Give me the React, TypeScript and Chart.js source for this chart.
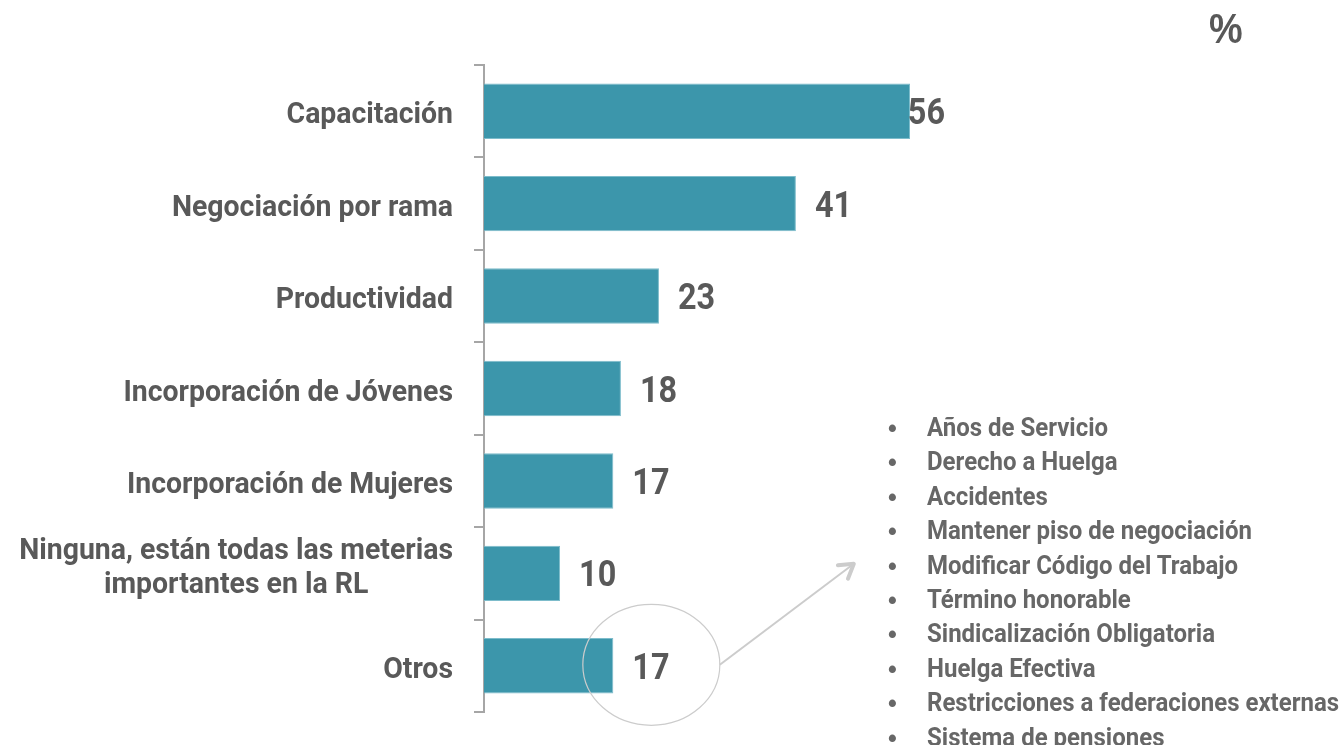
import React, { useEffect, useRef } from "react";
import { Chart, registerables } from "chart.js";

Chart.register(...registerables);

const categories: (string | string[])[] = [
  "Capacitación",
  "Negociación por rama",
  "Productividad",
  "Incorporación de Jóvenes",
  "Incorporación de Mujeres",
  ["Ninguna, están todas las meterias", "importantes en la RL"],
  "Otros",
];
const values: number[] = [56, 41, 23, 18, 17, 10, 17];
const otrosItems: string[] = [
  "Años de Servicio",
  "Derecho a Huelga",
  "Accidentes",
  "Mantener piso de negociación",
  "Modificar Código del Trabajo",
  "Término honorable",
  "Sindicalización Obligatoria",
  "Huelga Efectiva",
  "Restricciones a federaciones externas",
  "Sistema de pensiones",
];
const unitLabel = "%";

const FONT = "Roboto, 'Liberation Sans', sans-serif";
const LABEL_SQUEEZE = 0.98;
const VALUE_SQUEEZE = 0.9;
const LIST_SQUEEZE = 0.96;
const TEXT = "#595959";
const LIST_TEXT = "#676767";
const BAR = "#3c96ab";
const AXIS = "#a6a6a6";
const ANNOT = "#cccccc";

const textPlugin = {
  id: "textPlugin",
  afterDatasetsDraw(chart: any) {
    const { ctx, chartArea } = chart;
    const yScale = chart.scales.y;
    const meta = chart.getDatasetMeta(0);
    ctx.save();
    ctx.fillStyle = TEXT;
    ctx.textBaseline = "alphabetic";

    // category labels
    ctx.font = `bold 29px ${FONT}`;
    const labels = chart.data.labels as (string | string[])[];
    labels.forEach((lab, i) => {
      const lines = Array.isArray(lab) ? lab : [lab];
      const cy = yScale.getPixelForTick(i);
      const n = lines.length;
      const widths = lines.map((l) => ctx.measureText(l).width * LABEL_SQUEEZE);
      const maxW = Math.max(...widths);
      const right = chartArea.left - 31;
      lines.forEach((line, j) => {
        const base = cy + 12 + (j - (n - 1) / 2) * 34 + (n > 1 ? -9 : 0);
        ctx.save();
        ctx.translate(n > 1 ? right - maxW / 2 : right, base);
        ctx.scale(LABEL_SQUEEZE, 1);
        ctx.textAlign = n > 1 ? "center" : "right";
        ctx.fillText(line, 0, 0);
        ctx.restore();
      });
    });

    // value labels
    ctx.font = `bold 36px ${FONT}`;
    meta.data.forEach((bar: any, i: number) => {
      const txt = String(values[i]);
      const w = ctx.measureText(txt).width * VALUE_SQUEEZE;
      const x = Math.min(bar.x + 19, chartArea.right - w);
      ctx.save();
      ctx.translate(x, bar.y + 13);
      ctx.scale(VALUE_SQUEEZE, 1);
      ctx.textAlign = "left";
      ctx.fillText(txt, 0, 0);
      ctx.restore();
    });

    // annotation around "Otros"
    const last = meta.data[meta.data.length - 1];
    const cx = last.x + 38;
    const cy = last.y - 1;
    ctx.strokeStyle = ANNOT;
    ctx.lineWidth = 1.2;
    ctx.beginPath();
    ctx.ellipse(cx, cy, 68.5, 60.5, 0, 0, Math.PI * 2);
    ctx.stroke();
    const x0 = cx + 68.5;
    const y0 = cy;
    const x1 = x0 + 134;
    const y1 = y0 - 101;
    ctx.lineWidth = 2;
    ctx.beginPath();
    ctx.moveTo(x0, y0);
    ctx.lineTo(x1, y1);
    ctx.stroke();
    const ang = Math.atan2(y1 - y0, x1 - x0);
    const len = 16;
    ctx.lineWidth = 4;
    ctx.lineCap = "round";
    ctx.lineJoin = "round";
    ctx.beginPath();
    ctx.moveTo(x1 - len * Math.cos(ang - 0.55), y1 - len * Math.sin(ang - 0.55));
    ctx.lineTo(x1, y1);
    ctx.lineTo(x1 - len * Math.cos(ang + 0.55), y1 - len * Math.sin(ang + 0.55));
    ctx.stroke();
    ctx.restore();
  },
};

export default function App() {
  const ref = useRef<HTMLCanvasElement>(null);
  useEffect(() => {
    if (!ref.current) return;
    const chart = new Chart(ref.current, {
      type: "bar",
      data: {
        labels: categories,
        datasets: [
          {
            data: values,
            backgroundColor: BAR,
            borderColor: "#7dbccb",
            borderWidth: 1,
            categoryPercentage: 1,
            barPercentage: 0.6,
          },
        ],
      },
      options: {
        indexAxis: "y",
        animation: false,
        responsive: false,
        maintainAspectRatio: false,
        layout: { padding: { left: 0, right: 399, top: 65, bottom: 33 } },
        plugins: { legend: { display: false }, tooltip: { enabled: false } },
        scales: {
          x: { display: false, min: 0, max: 60.6 },
          y: {
            afterFit: (scale: any) => {
              scale.width = 484;
            },
            border: { display: true, color: AXIS, width: 2 },
            grid: {
              offset: true,
              drawOnChartArea: false,
              drawTicks: true,
              tickLength: 10,
              color: AXIS,
              lineWidth: 2,
            },
            ticks: { display: false },
          },
        },
      },
      plugins: [textPlugin],
    });
    return () => chart.destroy();
  }, []);

  return (
    <div style={{ position: "absolute", left: 0, top: 0, width: 1344, height: 745, overflow: "hidden", background: "#fff" }}>
      <canvas ref={ref} width={1344} height={745} style={{ position: "absolute", left: 0, top: 0 }} />
      <div
        style={{
          position: "absolute",
          left: 1209,
          top: 4,
          fontFamily: "'Liberation Sans', sans-serif",
          fontWeight: "bold",
          fontSize: 43,
          lineHeight: "48px",
          color: TEXT,
          transform: "scaleX(0.88)",
          transformOrigin: "left top",
        }}
      >
        {unitLabel}
      </div>
      <ul
        style={{
          position: "absolute",
          left: 888,
          top: 411,
          margin: 0,
          padding: 0,
          listStyle: "none",
          fontFamily: FONT,
          fontWeight: "bold",
          fontSize: 25,
          lineHeight: "34.4px",
          color: LIST_TEXT,
          whiteSpace: "nowrap",
        }}
      >
        {otrosItems.map((t) => (
          <li key={t} style={{ display: "flex", height: 34.4 }}>
            <span style={{ width: 39, fontSize: 25, fontFamily: "'Liberation Sans', sans-serif" }}>•</span>
            <span style={{ display: "inline-block", transform: `scaleX(${LIST_SQUEEZE})`, transformOrigin: "left center" }}>{t}</span>
          </li>
        ))}
      </ul>
    </div>
  );
}
